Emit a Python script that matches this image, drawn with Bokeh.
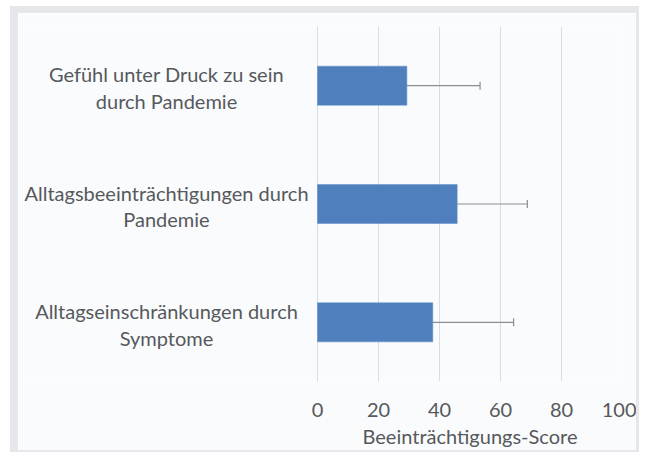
from bokeh.plotting import figure
from bokeh.models import Whisker, TeeHead, ColumnDataSource, FixedTicker, Title
from bokeh.core.properties import value
from bokeh.embed import file_html
from bokeh.resources import INLINE

categories = [
    "Gefühl unter Druck zu sein\ndurch Pandemie",
    "Alltagsbeeinträchtigungen durch\nPandemie",
    "Alltagseinschränkungen durch\nSymptome",
]
values = [29.3, 45.8, 37.8]
errors = [24.0, 23.0, 26.5]
x_ticks = [0, 20, 40, 60, 80, 100]
x_title = "Beeinträchtigungs-Score"

FONT = "Lato"
TXT = "#56595c"

src = ColumnDataSource(dict(
    cat=categories,
    val=values,
    upper=[v + e for v, e in zip(values, errors)],
    zero=[0] * len(categories),
))

# frame spans the label area too; the value scale starts 299 px right of the frame edge
x_start = -299 / 3.05

p = figure(
    width=629, height=446,
    y_range=list(reversed(categories)),
    x_range=(x_start, 100),
    output_backend="svg", toolbar_location=None,
    min_border_left=0, min_border_right=25, min_border_top=13, min_border_bottom=78,
    background_fill_color="#fafbfd", border_fill_color="#fafbfd",
    outline_line_color=None,
    styles={"margin": "6px 0px 0px 10px", "border-style": "solid",
            "border-color": "#e6e7ea", "border-width": "7px 3px 2px 8px"},
)

p.hbar(y="cat", right="val", left=0, height=0.33, source=src,
       fill_color="#4f80bd", line_color="#5a8cc8", line_width=0.5)

w = Whisker(source=src, base="cat", lower="val", upper="upper", dimension="width",
            line_color="#8a8f94", line_width=1.2,
            lower_head=None, upper_head=TeeHead(size=8, line_color="#8a8f94", line_width=1.2))
p.add_layout(w)

# category labels (centred lines, as in the original)
p.text(x="zero", y="cat", text="cat", source=src, x_offset=-151, y_offset=2,
       text_align="center", text_baseline="middle",
       text_font=value(FONT), text_font_size="20px", text_color=TXT,
       text_line_height=1.1)

p.yaxis.visible = False
p.xaxis.ticker = FixedTicker(ticks=x_ticks)
ax = p.xaxis[0]
ax.axis_line_color = None
ax.major_tick_line_color = None
ax.minor_tick_line_color = None
ax.major_label_text_font = FONT
ax.major_label_text_color = TXT
ax.major_label_text_font_size = "20px"
ax.major_label_standoff = 15

# axis title, centred under the 0-100 scale
p.add_layout(Title(text=x_title, align="left", offset=344, standoff=4,
                   text_font=FONT, text_font_style="normal", text_font_size="20px",
                   text_color=TXT), "below")

p.xgrid.ticker = FixedTicker(ticks=x_ticks)
p.xgrid.grid_line_color = "#d6dde6"
p.xgrid.grid_line_width = 1
p.ygrid.grid_line_color = None

open("out.html", "w").write(file_html(p, INLINE))
